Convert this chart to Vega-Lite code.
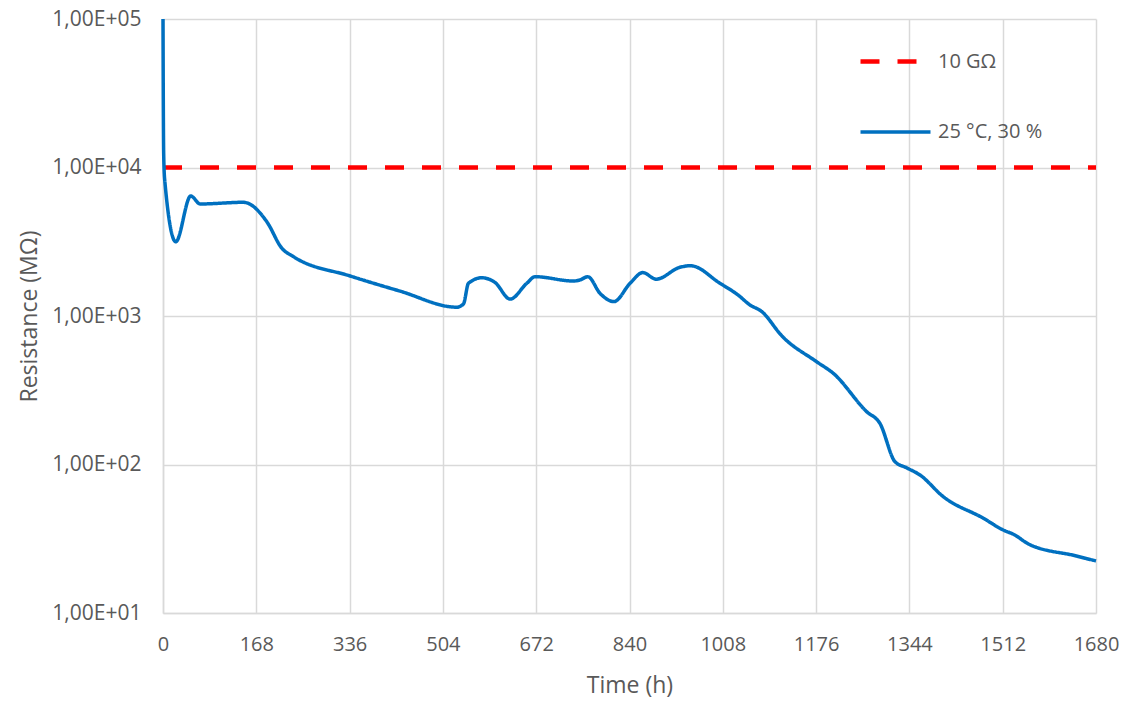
{
  "$schema": "https://vega.github.io/schema/vega-lite/v6.json",
  "width": 933,
  "height": 594,
  "autosize": "none",
  "padding": {"left": 163, "top": 19, "right": 40, "bottom": 94},
  "background": "#ffffff",
  "config": {
    "font": "Open Sans",
    "view": {"stroke": null},
    "axis": {
      "labelColor": "#595959",
      "titleColor": "#595959",
      "labelFont": "Open Sans",
      "titleFont": "Open Sans",
      "labelFontSize": 20,
      "titleFontSize": 23,
      "titleFontWeight": "normal",
      "domainColor": "#d9d9d9",
      "domainWidth": 1.5,
      "gridColor": "#d9d9d9",
      "gridWidth": 1.5,
      "ticks": false
    }
  },
  "data": {
    "values": [
      {"t": 0, "R": 10000, "s": "10 GΩ"},
      {"t": 1680, "R": 10000, "s": "10 GΩ"},
      {"t": 0, "R": 100000, "s": "25 °C, 30 %"},
      {"t": 0.6, "R": 25000, "s": "25 °C, 30 %"},
      {"t": 1.2, "R": 12500, "s": "25 °C, 30 %"},
      {"t": 3, "R": 8300, "s": "25 °C, 30 %"},
      {"t": 23, "R": 3160, "s": "25 °C, 30 %"},
      {"t": 50, "R": 6430, "s": "25 °C, 30 %"},
      {"t": 67, "R": 5680, "s": "25 °C, 30 %"},
      {"t": 145, "R": 5830, "s": "25 °C, 30 %"},
      {"t": 187, "R": 4310, "s": "25 °C, 30 %"},
      {"t": 214, "R": 2860, "s": "25 °C, 30 %"},
      {"t": 235, "R": 2510, "s": "25 °C, 30 %"},
      {"t": 337, "R": 1860, "s": "25 °C, 30 %"},
      {"t": 427, "R": 1470, "s": "25 °C, 30 %"},
      {"t": 529, "R": 1146, "s": "25 °C, 30 %"},
      {"t": 541, "R": 1205, "s": "25 °C, 30 %"},
      {"t": 550, "R": 1660, "s": "25 °C, 30 %"},
      {"t": 574, "R": 1810, "s": "25 °C, 30 %"},
      {"t": 598, "R": 1680, "s": "25 °C, 30 %"},
      {"t": 625, "R": 1300, "s": "25 °C, 30 %"},
      {"t": 655, "R": 1660, "s": "25 °C, 30 %"},
      {"t": 670, "R": 1840, "s": "25 °C, 30 %"},
      {"t": 739, "R": 1720, "s": "25 °C, 30 %"},
      {"t": 751, "R": 1750, "s": "25 °C, 30 %"},
      {"t": 765, "R": 1840, "s": "25 °C, 30 %"},
      {"t": 787, "R": 1420, "s": "25 °C, 30 %"},
      {"t": 812, "R": 1250, "s": "25 °C, 30 %"},
      {"t": 841, "R": 1660, "s": "25 °C, 30 %"},
      {"t": 864, "R": 1960, "s": "25 °C, 30 %"},
      {"t": 888, "R": 1770, "s": "25 °C, 30 %"},
      {"t": 931, "R": 2130, "s": "25 °C, 30 %"},
      {"t": 950, "R": 2180, "s": "25 °C, 30 %"},
      {"t": 1003, "R": 1660, "s": "25 °C, 30 %"},
      {"t": 1036, "R": 1380, "s": "25 °C, 30 %"},
      {"t": 1057, "R": 1186, "s": "25 °C, 30 %"},
      {"t": 1077, "R": 1080, "s": "25 °C, 30 %"},
      {"t": 1115, "R": 730, "s": "25 °C, 30 %"},
      {"t": 1177, "R": 492, "s": "25 °C, 30 %"},
      {"t": 1207, "R": 411, "s": "25 °C, 30 %"},
      {"t": 1267, "R": 227, "s": "25 °C, 30 %"},
      {"t": 1291, "R": 189, "s": "25 °C, 30 %"},
      {"t": 1318, "R": 104.5, "s": "25 °C, 30 %"},
      {"t": 1339, "R": 95, "s": "25 °C, 30 %"},
      {"t": 1363, "R": 85, "s": "25 °C, 30 %"},
      {"t": 1405, "R": 60.7, "s": "25 °C, 30 %"},
      {"t": 1477, "R": 43.5, "s": "25 °C, 30 %"},
      {"t": 1513, "R": 36.2, "s": "25 °C, 30 %"},
      {"t": 1534, "R": 33.5, "s": "25 °C, 30 %"},
      {"t": 1558, "R": 29.2, "s": "25 °C, 30 %"},
      {"t": 1645, "R": 24.2, "s": "25 °C, 30 %"},
      {"t": 1680, "R": 22.4, "s": "25 °C, 30 %"}
    ]
  },
  "mark": {"type": "line", "interpolate": "monotone", "strokeCap": "butt"},
  "encoding": {
    "x": {
      "field": "t",
      "type": "quantitative",
      "scale": {"domain": [0, 1680], "nice": false, "zero": false},
      "axis": {
        "title": "Time (h)",
        "values": [0, 168, 336, 504, 672, 840, 1008, 1176, 1344, 1512, 1680],
        "format": "d",
        "labelPadding": 21,
        "titlePadding": 20,
        "labelFlush": false
      }
    },
    "y": {
      "field": "R",
      "type": "quantitative",
      "scale": {"type": "log", "domain": [10, 100000], "nice": false},
      "axis": {
        "title": "Resistance (MΩ)",
        "values": [10, 100, 1000, 10000, 100000],
        "labelExpr": "'1,00E+0' + round(log(datum.value) / LN10)",
        "labelFontSize": 21,
        "labelPadding": 22,
        "titlePadding": 10,
        "labelFlush": false
      }
    },
    "color": {
      "field": "s",
      "type": "nominal",
      "scale": {"domain": ["10 GΩ", "25 °C, 30 %"], "range": ["#FF0000", "#0070C0"]},
      "legend": {
        "title": null,
        "orient": "none",
        "legendX": 695,
        "legendY": 5,
        "padding": 0,
        "symbolType": "stroke",
        "symbolSize": 4900,
        "symbolStrokeWidth": 4,
        "labelFontSize": 20,
        "labelColor": "#595959",
        "labelFont": "Open Sans",
        "labelOffset": 5,
        "rowPadding": 23
      }
    },
    "strokeDash": {
      "field": "s",
      "type": "nominal",
      "scale": {"domain": ["10 GΩ", "25 °C, 30 %"], "range": [[19, 18], [1, 0]]}
    },
    "strokeWidth": {
      "field": "s",
      "type": "nominal",
      "scale": {"domain": ["10 GΩ", "25 °C, 30 %"], "range": [4.5, 3.5]},
      "legend": null
    }
  }
}
